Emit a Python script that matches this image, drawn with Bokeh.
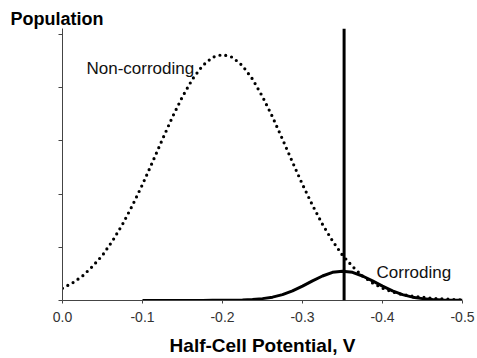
from bokeh.plotting import figure
from bokeh.models import Range1d, FixedTicker, Span, Label
from bokeh.embed import file_html
from bokeh.resources import INLINE

# Non-corroding population (dotted)
x_nc = [0.0, -0.0125, -0.025, -0.0375, -0.05, -0.0625, -0.075, -0.0875, -0.1, -0.1125,
        -0.125, -0.1375, -0.15, -0.1625, -0.175, -0.1875, -0.2, -0.2125, -0.225, -0.2375,
        -0.25, -0.2625, -0.275, -0.2875, -0.3, -0.3125, -0.325, -0.3375, -0.35, -0.3625,
        -0.375, -0.3875, -0.4, -0.4125, -0.425, -0.4375, -0.45, -0.4625, -0.475, -0.4875, -0.5]
y_nc = [0.23, 0.33, 0.46, 0.64, 0.85, 1.12, 1.43, 1.79, 2.18, 2.60,
        3.03, 3.45, 3.83, 4.16, 4.41, 4.57, 4.62, 4.57, 4.41, 4.16,
        3.83, 3.45, 3.03, 2.60, 2.18, 1.79, 1.43, 1.12, 0.85, 0.64,
        0.46, 0.33, 0.23, 0.16, 0.11, 0.08, 0.06, 0.04, 0.03, 0.02, 0.01]

# Corroding population (solid)
x_c = [-0.1, -0.1125, -0.125, -0.1375, -0.15, -0.1625, -0.175, -0.1875, -0.2, -0.2125,
       -0.225, -0.2375, -0.25, -0.2625, -0.275, -0.2875, -0.3, -0.3125, -0.325, -0.3375,
       -0.35, -0.3625, -0.375, -0.3875, -0.4, -0.4125, -0.425, -0.4375, -0.45, -0.4625,
       -0.475, -0.4875, -0.5]
y_c = [0.0, 0.0, 0.001, 0.001, 0.001, 0.002, 0.002, 0.003, 0.004, 0.006,
       0.010, 0.018, 0.035, 0.063, 0.11, 0.18, 0.27, 0.37, 0.46, 0.53,
       0.55, 0.53, 0.46, 0.37, 0.27, 0.18, 0.11, 0.063, 0.035, 0.018,
       0.010, 0.006, 0.004]

threshold = -0.352
x_ticks = [0.0, -0.1, -0.2, -0.3, -0.4, -0.5]
x_tick_labels = ["0.0", "-0.1", "-0.2", "-0.3", "-0.4", "-0.5"]
y_ticks = [0, 1, 2, 3, 4, 5]

FONT = "Liberation Sans"

p = figure(width=477, height=358, output_backend="svg", toolbar_location=None,
           x_range=Range1d(0.0, -0.5), y_range=Range1d(0, 5.11),
           min_border_left=62, min_border_right=15, min_border_top=28, min_border_bottom=58,
           title="Population")
p.outline_line_color = None
p.grid.grid_line_color = None
p.background_fill_color = "white"
p.border_fill_color = "white"

p.title.text_font = FONT
p.title.text_font_size = "18px"
p.title.text_font_style = "bold"
p.title.text_color = "black"
p.title.align = "left"
p.title.offset = -52
p.title.standoff = 0
p.title.vertical_align = "bottom"

p.line(x_nc, y_nc, line_color="black", line_width=3.2, line_dash="0 6", line_cap="round")
p.line(x_c, y_c, line_color="black", line_width=3)
p.add_layout(Span(location=threshold, dimension="height", line_color="black", line_width=3))

# axes
p.xaxis.ticker = FixedTicker(ticks=x_ticks)
p.xaxis.major_label_overrides = {t: l for t, l in zip(x_ticks, x_tick_labels)}
p.xaxis.minor_tick_line_color = None
p.xaxis.major_tick_out = 3
p.xaxis.major_tick_in = 0
p.xaxis.major_label_standoff = 8
p.xaxis.major_label_text_font = FONT
p.xaxis.major_label_text_font_size = "14px"
p.xaxis.major_label_text_color = "#333333"
p.xaxis.axis_label = "Half-Cell Potential, V"
p.xaxis.axis_label_text_font = FONT
p.xaxis.axis_label_text_font_size = "19px"
p.xaxis.axis_label_text_font_style = "bold"
p.xaxis.axis_label_text_color = "black"
p.xaxis.axis_label_standoff = 10
p.xaxis.axis_line_color = "#444444"
p.xaxis.major_tick_line_color = "#444444"

p.yaxis.ticker = FixedTicker(ticks=y_ticks)
p.yaxis.major_label_text_font_size = "0px"
p.yaxis.major_label_text_color = None
p.yaxis.major_label_standoff = 0
p.yaxis.minor_tick_line_color = None
p.yaxis.major_tick_out = 4
p.yaxis.major_tick_in = 0
p.yaxis.axis_line_color = "#444444"
p.yaxis.major_tick_line_color = "#444444"

p.add_layout(Label(x=-0.03, y=4.36, text="Non-corroding", text_font=FONT, text_font_size="17px",
                   text_color="#111111", text_baseline="alphabetic"))
p.add_layout(Label(x=-0.3925, y=0.526, text="Corroding", text_font=FONT, text_font_size="17px",
                   text_color="#111111", text_baseline="alphabetic"))

open("out.html", "w").write(file_html(p, INLINE))
